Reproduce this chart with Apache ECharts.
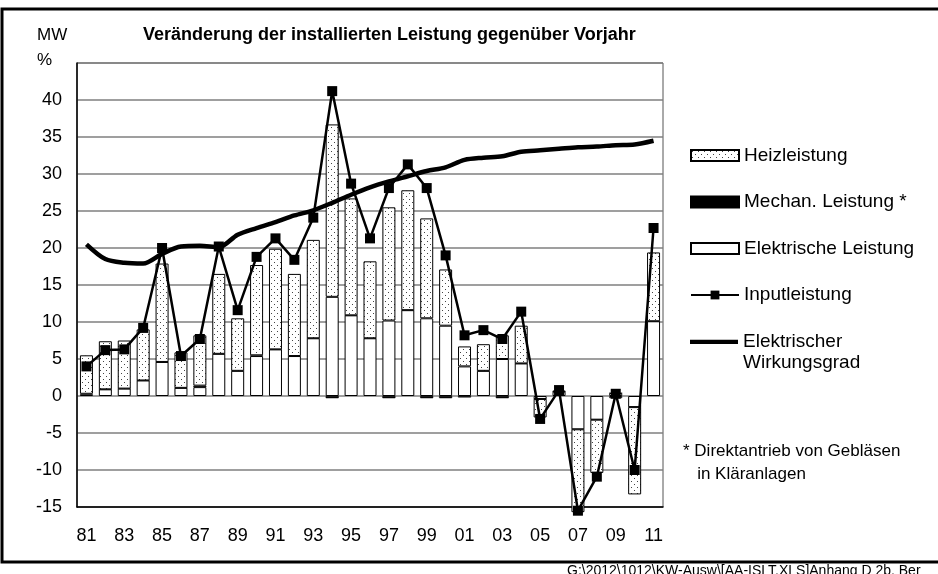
<!DOCTYPE html>
<html>
<head>
<meta charset="utf-8">
<script src="https://cdn.jsdelivr.net/npm/echarts@6/dist/echarts.min.js"></script>
<style>
  html, body { margin: 0; padding: 0; background: #fff; }
  #chart { width: 938px; height: 574px; }
</style>
</head>
<body>
<div id="chart"></div>
<script>
// Jahre 1981 - 2011
const years = ['81', '82', '83', '84', '85', '86', '87', '88', '89', '90', '91', '92', '93', '94', '95', '96', '97', '98', '99', '00', '01', '02', '03', '04', '05', '06', '07', '08', '09', '10', '11'];

// MW, Veränderung gegenüber Vorjahr
const elektrisch = [0.2, 0.9, 1.0, 2.1, 4.6, 1.1, 1.2, 5.7, 3.4, 5.4, 6.3, 5.4, 7.8, 13.4, 10.9, 7.8, 10.2, 11.6, 10.5, 9.5, 4.0, 3.4, 5.0, 4.4, -0.4, 0.6, -4.5, -3.2, 0.4, -1.5, 10.1];
const mechan = [0.1, 0, 0, 0, 0, 0, 0.2, 0, 0, 0.1, 0, 0, 0, -0.3, 0, 0, -0.3, 0, -0.3, -0.3, -0.2, 0, -0.3, 0, 0, 0, 0, 0, 0, 0, 0];
const heiz = [5.2, 6.5, 6.5, 6.9, 13.3, 4.8, 6.8, 10.8, 7.1, 12.2, 13.6, 11.1, 13.3, 23.3, 15.8, 10.4, 15.3, 16.2, 13.5, 7.6, 2.7, 3.6, 3.2, 5.1, -2.5, 0.1, -11.2, -7.2, -0.3, -11.8, 9.3];
const input = [4.0, 6.2, 6.3, 9.2, 20.0, 5.4, 7.7, 20.2, 11.6, 18.8, 21.3, 18.4, 24.1, 41.2, 28.7, 21.3, 28.1, 31.3, 28.1, 19.0, 8.2, 8.9, 7.7, 11.4, -3.1, 0.8, -15.5, -10.9, 0.3, -10.0, 22.7];
// %
const wirkungsgrad = [20.5, 18.5, 18.0, 17.9, 19.2, 20.2, 20.3, 20.1, 21.8, 22.7, 23.5, 24.4, 25.1, 26.1, 27.2, 28.2, 29.0, 29.7, 30.4, 30.9, 31.9, 32.2, 32.4, 33.0, 33.2, 33.4, 33.6, 33.7, 33.9, 34.0, 34.5];

const FONT = '"Liberation Sans", Arial, sans-serif';

// gepunktetes Muster für Heizleistung
function dotPattern() {
  const c = document.createElement('canvas');
  c.width = 6;
  c.height = 6;
  const ctx = c.getContext('2d');
  ctx.fillStyle = '#fff';
  ctx.fillRect(0, 0, 6, 6);
  ctx.fillStyle = '#444';
  ctx.fillRect(1, 1, 1, 1);
  ctx.fillRect(4, 4, 1, 1);
  return c;
}
const dots = { image: dotPattern(), repeat: 'repeat' };

const legendText = { fontSize: 19, color: '#000', fontFamily: FONT, lineHeight: 21 };

const chart = echarts.init(document.getElementById('chart'));

const option = {
  animation: false,
  textStyle: { fontFamily: FONT, color: '#000' },
  graphic: [
    {
      type: 'rect',
      shape: { x: 2, y: 9, width: 960, height: 553 },
      style: { fill: 'none', stroke: '#000', lineWidth: 3 },
      silent: true
    },
    {
      type: 'text', left: 37, top: 27,
      style: { text: 'MW', font: '17px ' + FONT, fill: '#000' }
    },
    {
      type: 'text', left: 37, top: 52,
      style: { text: '%', font: '17px ' + FONT, fill: '#000' }
    },
    {
      type: 'text', left: 143, top: 26,
      style: { text: 'Veränderung der installierten Leistung gegenüber Vorjahr', font: 'bold 18px ' + FONT, fill: '#000' }
    },
    {
      type: 'text', left: 683, top: 440,
      style: { text: '* Direktantrieb von Gebläsen\n   in Kläranlagen', font: '17px ' + FONT, fill: '#000', lineHeight: 23 }
    },
    {
      type: 'text', left: 567, top: 564,
      style: { text: 'G:\\2012\\1012\\KW-Ausw\\[AA-ISLT.XLS]Anhang D 2b, Ber', font: '14px ' + FONT, fill: '#000' }
    }
  ],
  legend: [
    {
      orient: 'vertical',
      left: 685,
      top: 140,
      itemWidth: 48,
      itemHeight: 11,
      itemGap: 25.5,
      selectedMode: false,
      textStyle: legendText,
      data: [
        { name: 'Heizleistung', icon: 'rect' },
        { name: 'Mechan. Leistung *', icon: 'rect' },
        { name: 'Elektrische Leistung', icon: 'rect' },
        { name: 'Inputleistung' }
      ]
    },
    {
      // dicke Linie auf Höhe der ersten Textzeile
      orient: 'vertical',
      left: 685,
      top: 326,
      itemWidth: 48,
      itemHeight: 42,
      symbolKeepAspect: false,
      selectedMode: false,
      textStyle: legendText,
      data: [
        { name: 'Elektrischer\nWirkungsgrad', icon: 'path://M0,0 M0,21 L100,21 L100,31 L0,31 Z M100,100' }
      ]
    }
  ],
  grid: { left: 77, right: 275, top: 63, bottom: 67, show: true, borderColor: '#555', borderWidth: 1 },
  xAxis: {
    type: 'category',
    data: years,
    axisLine: { onZero: false, lineStyle: { color: '#000', width: 1.5 } },
    axisTick: { show: false },
    axisLabel: { interval: 1, fontSize: 18, color: '#000', margin: 20, fontFamily: FONT }
  },
  yAxis: {
    type: 'value',
    min: -15,
    max: 45,
    interval: 5,
    axisLine: { show: true, lineStyle: { color: '#000', width: 1.5 } },
    axisTick: { show: false },
    axisLabel: {
      fontSize: 18, color: '#000', margin: 15, fontFamily: FONT,
      formatter: v => (v === 45 ? '' : v)
    },
    splitLine: { lineStyle: { color: '#7f7f7f', width: 1.5 } }
  },
  series: [
    {
      name: 'Elektrische Leistung',
      type: 'bar',
      stack: 'leistung',
      barWidth: 13,
      clip: false,
      data: elektrisch,
      itemStyle: { color: '#fff', borderColor: '#000', borderWidth: 1 }
    },
    {
      name: 'Mechan. Leistung *',
      type: 'bar',
      stack: 'leistung',
      barWidth: 13,
      clip: false,
      data: mechan,
      itemStyle: { color: '#000', borderColor: '#000', borderWidth: 0.5 }
    },
    {
      name: 'Heizleistung',
      type: 'bar',
      stack: 'leistung',
      barWidth: 13,
      clip: false,
      data: heiz,
      itemStyle: { color: dots, borderColor: '#000', borderWidth: 1 }
    },
    {
      name: 'Inputleistung',
      type: 'line',
      data: input,
      clip: false,
      symbol: 'rect',
      symbolSize: 10,
      lineStyle: { color: '#000', width: 2.5 },
      itemStyle: { color: '#000' },
      z: 5
    },
    {
      name: 'Elektrischer\nWirkungsgrad',
      type: 'line',
      data: wirkungsgrad,
      symbol: 'none',
      smooth: 0.3,
      lineStyle: { color: '#000', width: 4.5 },
      itemStyle: { color: '#000' },
      z: 4
    }
  ]
};

chart.setOption(option);
</script>
</body>
</html>
